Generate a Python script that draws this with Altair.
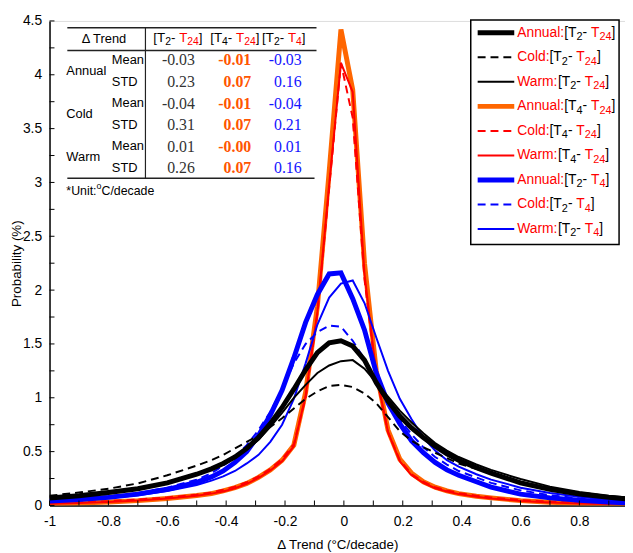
import altair as alt
import pandas as pd

# ---------------- data ----------------
x_vals = [-1.0, -0.9, -0.8, -0.7, -0.6, -0.5, -0.45, -0.41, -0.37, -0.33, -0.29, -0.25,
          -0.21, -0.17, -0.13, -0.09, -0.05, -0.01, 0.03, 0.07, 0.11, 0.15, 0.19, 0.23,
          0.27, 0.31, 0.35, 0.39, 0.45, 0.5, 0.6, 0.7, 0.8, 0.9, 0.96]

annual_t2_t24 = [0.07, 0.09, 0.12, 0.155, 0.21, 0.29, 0.34, 0.39, 0.45, 0.53, 0.63, 0.76,
                 0.91, 1.08, 1.26, 1.42, 1.51, 1.53, 1.48, 1.35, 1.14, 0.97, 0.83, 0.72,
                 0.63, 0.55, 0.48, 0.42, 0.35, 0.30, 0.21, 0.15, 0.105, 0.075, 0.06]
cold_t2_t24 = [0.09, 0.12, 0.155, 0.205, 0.28, 0.37, 0.42, 0.47, 0.53, 0.59, 0.65, 0.73,
               0.81, 0.90, 0.99, 1.06, 1.11, 1.12, 1.10, 1.04, 0.95, 0.82, 0.69, 0.60,
               0.54, 0.49, 0.44, 0.39, 0.34, 0.30, 0.22, 0.16, 0.12, 0.085, 0.07]
warm_t2_t24 = [0.075, 0.095, 0.12, 0.16, 0.215, 0.29, 0.34, 0.39, 0.45, 0.52, 0.61, 0.73,
               0.86, 1.00, 1.12, 1.23, 1.30, 1.34, 1.35, 1.27, 1.14, 1.01, 0.88, 0.77,
               0.67, 0.58, 0.51, 0.45, 0.38, 0.33, 0.245, 0.175, 0.125, 0.09, 0.075]
annual_t4_t24 = [0.015, 0.022, 0.032, 0.045, 0.065, 0.092, 0.11, 0.135, 0.165, 0.205, 0.26, 0.33,
                 0.42, 0.56, 1.05, 1.85, 3.10, 4.42, 3.86, 2.25, 1.25, 0.70, 0.43, 0.30,
                 0.22, 0.17, 0.135, 0.11, 0.085, 0.07, 0.045, 0.03, 0.02, 0.015, 0.012]
cold_t4_t24 = [0.022, 0.03, 0.04, 0.055, 0.075, 0.10, 0.12, 0.145, 0.175, 0.215, 0.27, 0.34,
               0.43, 0.57, 1.00, 1.78, 2.95, 4.11, 3.60, 2.10, 1.20, 0.68, 0.42, 0.29,
               0.22, 0.17, 0.14, 0.115, 0.09, 0.075, 0.05, 0.035, 0.025, 0.018, 0.015]
warm_t4_t24 = [0.015, 0.022, 0.032, 0.045, 0.065, 0.09, 0.11, 0.13, 0.16, 0.20, 0.255, 0.325,
               0.41, 0.55, 1.02, 1.80, 2.98, 4.11, 3.84, 2.15, 1.22, 0.68, 0.41, 0.28,
               0.21, 0.16, 0.13, 0.105, 0.08, 0.065, 0.042, 0.028, 0.019, 0.013, 0.01]
annual_t2_t4 = [0.04, 0.055, 0.075, 0.105, 0.15, 0.215, 0.265, 0.32, 0.40, 0.50, 0.65, 0.84,
                1.07, 1.37, 1.70, 1.96, 2.15, 2.16, 1.92, 1.63, 1.23, 0.95, 0.76, 0.60,
                0.49, 0.40, 0.33, 0.28, 0.22, 0.17, 0.105, 0.07, 0.048, 0.032, 0.025]
cold_t2_t4 = [0.045, 0.062, 0.085, 0.115, 0.165, 0.24, 0.30, 0.37, 0.45, 0.56, 0.70, 0.87,
              1.08, 1.32, 1.50, 1.61, 1.67, 1.66, 1.53, 1.36, 1.16, 0.97, 0.80, 0.66,
              0.54, 0.45, 0.38, 0.32, 0.26, 0.21, 0.14, 0.095, 0.065, 0.045, 0.035]
warm_t2_t4 = [0.038, 0.052, 0.07, 0.095, 0.135, 0.19, 0.23, 0.27, 0.32, 0.39, 0.47, 0.59,
              0.75, 0.99, 1.32, 1.68, 1.93, 2.06, 2.09, 1.88, 1.56, 1.25, 0.99, 0.80,
              0.63, 0.51, 0.42, 0.36, 0.29, 0.24, 0.165, 0.115, 0.08, 0.055, 0.043]

seasons = ["Annual", "Cold", "Warm"]
pairs = [("2", "24"), ("4", "24"), ("2", "4")]
stat_names = ["Mean", "STD"]
table_t2_t24 = [-0.03, 0.23, -0.04, 0.31, 0.01, 0.26]
table_t4_t24 = [-0.01, 0.07, -0.01, 0.07, -0.00, 0.07]
table_t2_t4 = [-0.03, 0.16, -0.04, 0.21, 0.01, 0.16]

x_label_ticks = [-1.0, -0.8, -0.6, -0.4, -0.2, 0.0, 0.2, 0.4, 0.6, 0.8]
x_minor_ticks = [-1.0, -0.9, -0.8, -0.7, -0.6, -0.5, -0.4, -0.3, -0.2, -0.1,
                 0.0, 0.1, 0.2, 0.3, 0.4, 0.5, 0.6, 0.7, 0.8, 0.9]
y_label_ticks = [0, 0.5, 1, 1.5, 2, 2.5, 3, 3.5, 4, 4.5]
y_minor_ticks = [0, 0.25, 0.5, 0.75, 1, 1.25, 1.5, 1.75, 2, 2.25, 2.5, 2.75,
                 3, 3.25, 3.5, 3.75, 4, 4.25, 4.5]

# ---------------- styles / layout ----------------
BLACK, ORANGE, RED, BLUE = "#000000", "#FF6600", "#FF0000", "#0000FF"
series = [  # key, values, color, width, dashed  (legend order)
    ("a224", annual_t2_t24, BLACK, 5, False),
    ("c224", cold_t2_t24, BLACK, 2, True),
    ("w224", warm_t2_t24, BLACK, 2, False),
    ("a424", annual_t4_t24, ORANGE, 5, False),
    ("c424", cold_t4_t24, RED, 2, True),
    ("w424", warm_t4_t24, RED, 2, False),
    ("a24", annual_t2_t4, BLUE, 5, False),
    ("c24", cold_t2_t4, BLUE, 2, True),
    ("w24", warm_t2_t4, BLUE, 2, False),
]
draw_order = ["a424", "c424", "w424", "a24", "c24", "w24", "a224", "c224", "w224"]

SANS = "Liberation Sans, Arial, Helvetica, sans-serif"
SERIF = "Liberation Serif, Times New Roman, serif"
W, H = 582, 490
OX, OY = 50, 18  # page position of plot origin
DASH = [8, 5]

rows = []
for key, vals, *_ in series:
    for xv, yv in zip(x_vals, vals):
        rows.append({"x": xv, "y": yv, "s": key})
df = pd.DataFrame(rows)

xs = alt.Scale(domain=[-1, 0.955], nice=False, zero=False)
ys = alt.Scale(domain=[0, 4.5], nice=False, zero=False)
common_axis = dict(ticks=False, grid=False, domainColor="black", domainWidth=1.5,
                   labelFont=SANS, labelFontSize=14, labelColor="black",
                   labelFlush=False, labelOverlap=False, labelExpr="'' + datum.value",
                   titleFont=SANS, titleFontSize=13.5, titleFontWeight="normal",
                   titleColor="black")
x_axis = alt.Axis(values=x_label_ticks, title="Δ Trend (°C/decade)", labelPadding=9,
                  titlePadding=10, **common_axis)
y_axis = alt.Axis(values=y_label_ticks, title="Probability (%)", labelPadding=8,
                  titleX=-26, titleY=H / 2, titleAngle=270, titleBaseline="bottom",
                  titleAlign="center", **common_axis)

X = lambda f: alt.X(f, type="quantitative", scale=xs, axis=x_axis)
Y = lambda f: alt.Y(f, type="quantitative", scale=ys, axis=y_axis)

layers = []
style = {k: (c, w, d) for k, _, c, w, d in series}
for key in draw_order:
    c, w, d = style[key]
    mk = dict(color=c, strokeWidth=w, clip=True)
    if d:
        mk["strokeDash"] = DASH
    layers.append(alt.Chart(df).transform_filter(alt.datum.s == key)
                  .mark_line(**mk).encode(x=X("x"), y=Y("y")))

# inward ticks
xt = pd.DataFrame({"t": x_minor_ticks, "b": 0.0})
layers.append(alt.Chart(xt).mark_rule(color="black", strokeWidth=1)
              .encode(x=X("t"), y=Y("b"), y2=alt.value(H - 5)))
yt = pd.DataFrame({"t": y_minor_ticks, "b": -1.0})
layers.append(alt.Chart(yt).mark_rule(color="black", strokeWidth=1)
              .encode(y=Y("t"), x=X("b"), x2=alt.value(5)))

# ---------------- annotation helpers ----------------
AW = {' ': 278, '*': 389, '-': 333, '.': 278, '/': 278, ':': 278, '[': 278, ']': 278,
      '(': 333, ')': 333, '%': 889, 'A': 667, 'C': 722, 'D': 722, 'M': 833, 'S': 667,
      'T': 611, 'U': 722, 'W': 944, 'a': 556, 'c': 500, 'd': 556, 'e': 556, 'i': 222,
      'l': 222, 'm': 833, 'n': 556, 'o': 556, 'r': 333, 't': 278, 'u': 556}


def tw(s, size):
    return sum(AW.get(ch, 556) for ch in s) * size / 1000.0


def txt(s, px, py, size, color="black", font=SANS, align="left", weight="normal"):
    return (alt.Chart(alt.Data(values=[{}]))
            .mark_text(text=s, align=align, baseline="middle", font=font, fontSize=size,
                       color=color, fontWeight=weight)
            .encode(x=alt.value(px - OX), y=alt.value(py - OY)))


def rich(pieces, px, py, size, sub):
    out, x = [], px
    for s, color, kind in pieces:
        if kind == "n":
            out.append(txt(s, x, py, size, color))
            x += tw(s, size)
        elif kind == "s":
            out.append(txt(s, x, py + 4.5, sub, color))
            x += tw(s, sub)
        else:
            out.append(txt(s, x, py - 5, sub, color))
            x += tw(s, sub)
    return out


def bracket(a, b):
    return [("[T", BLACK, "n"), (a, BLACK, "s"), ("- ", BLACK, "n"),
            ("T", RED, "n"), (b, RED, "s"), ("]", BLACK, "n")]


def hrule(x1, x2, y, width=1.5, color="#222222", dash=None):
    mk = dict(color=color, strokeWidth=width)
    if dash:
        mk["strokeDash"] = dash
    return (alt.Chart(alt.Data(values=[{}])).mark_rule(**mk)
            .encode(x=alt.value(x1 - OX), x2=alt.value(x2 - OX), y=alt.value(y - OY)))


def vrule(x, y1, y2, width=1.2, color="#222222"):
    return (alt.Chart(alt.Data(values=[{}])).mark_rule(color=color, strokeWidth=width)
            .encode(x=alt.value(x - OX), y=alt.value(y1 - OY), y2=alt.value(y2 - OY)))


# ---------------- legend ----------------
layers.append(alt.Chart(alt.Data(values=[{}]))
              .mark_rect(fill="white", stroke="black", strokeWidth=1.5)
              .encode(x=alt.value(476 - OX), x2=alt.value(626 - OX),
                      y=alt.value(17 - OY), y2=alt.value(244 - OY)))
i = 0
for a, b in pairs:
    for season in seasons:
        key, _, c, w, d = series[i]
        py = 30 + 24.8 * i
        layers.append(hrule(483, 520, py, width=w, color=c, dash=DASH if d else None))
        layers += rich([(season + ":", RED, "n")] + bracket(a, b), 523, py, 14, 11)
        i += 1

# ---------------- table ----------------
layers.append(hrule(68, 320, 25))
layers.append(hrule(68, 320, 48))
layers.append(hrule(68, 318, 177))
layers.append(vrule(147, 25, 177))
layers.append(txt("Δ Trend", 105, 36, 13, align="center"))
for (a, b), x0 in zip(pairs, [155, 212.5, 265]):
    layers += rich(bracket(a, b), x0, 35, 13.5, 10.5)
row_y = [57.5 + 21.8 * k for k in range(6)]
for k, season in enumerate(seasons):
    layers.append(txt(season, 67, (row_y[2 * k] + row_y[2 * k + 1]) / 2, 13))
for k in range(6):
    layers.append(txt(stat_names[k % 2], 113, row_y[k], 13))
cols = [(table_t2_t24, 197, "#333333", "normal"),
        (table_t4_t24, 254, "#FF5500", "bold"),
        (table_t2_t4, 305, "#1414FF", "normal")]
for vals, xr, col, wt in cols:
    for k, v in enumerate(vals):
        layers.append(txt(f"{v:.2f}", xr, row_y[k] + 0.5, 16, color=col, font=SERIF,
                          align="right", weight=wt))
layers += rich([("*Unit:", BLACK, "n"), ("o", BLACK, "p"), ("C/decade", BLACK, "n")],
               67, 190, 12.5, 9)

chart = (alt.layer(*layers)
         .properties(width=W, height=H,
                     padding={"left": 42, "top": 10, "right": 0, "bottom": 45},
                     autosize=alt.AutoSizeParams(type="none"))
         .configure_view(stroke=None)
         .configure(background="white"))

chart.save("out.html", embed_options={"renderer": "svg", "actions": False})
